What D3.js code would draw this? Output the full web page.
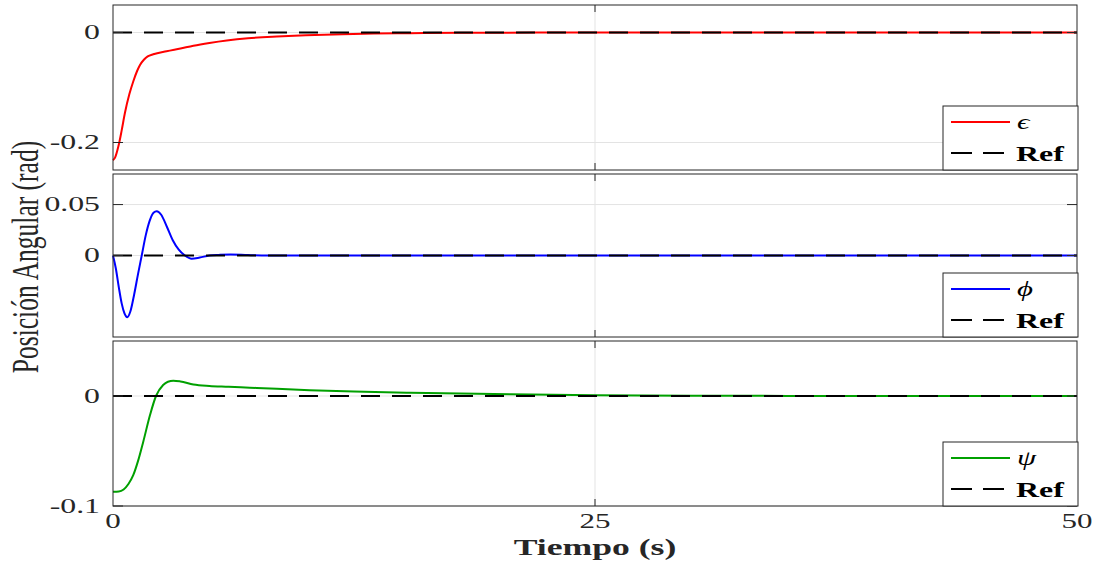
<!DOCTYPE html>
<html>
<head>
<meta charset="utf-8">
<script src="https://cdn.jsdelivr.net/npm/d3@7"></script>
<style>
  body { margin: 0; background: #fff; }
  text { font-family: "Liberation Serif", "DejaVu Serif", serif; fill: #262626; }
</style>
</head>
<body>
<div id="chart"></div>
<script>
const W = 1103, H = 564;
const SX = 1.55; // the reference is stretched horizontally

// time series
const tEps = [0, 0.1, 0.28, 0.45, 0.62, 0.85, 1.05, 1.25, 1.4, 1.6, 1.8, 2.09, 2.78, 3.5, 4.17, 5.0, 5.9, 7.0, 8.5, 10, 11.9, 13.5, 15.4, 18, 22, 30, 50];
const epsVals = [-0.232, -0.228, -0.207, -0.178, -0.146, -0.112, -0.089, -0.07, -0.059, -0.0495, -0.0435, -0.0395, -0.034, -0.029, -0.024, -0.019, -0.0145, -0.0105, -0.0073, -0.005, -0.003, -0.002, -0.0012, -0.0006, -0.0002, 0, 0];

const tPhi = [0, 0.15, 0.3, 0.45, 0.6, 0.74, 0.9, 1.1, 1.3, 1.49, 1.7, 1.9, 2.1, 2.27, 2.5, 2.8, 3.1, 3.4, 3.73, 4.08, 4.5, 5.0, 5.5, 6.1, 7, 8, 50];
const phiVals = [0, -0.013, -0.031, -0.047, -0.057, -0.0605, -0.055, -0.038, -0.018, 0, 0.02, 0.034, 0.042, 0.0435, 0.040, 0.028, 0.015, 0.006, 0, -0.0032, -0.002, 0, 0.0006, 0.001, 0.0004, 0, 0];

const tPsi = [0, 0.3, 0.55, 0.8, 1.05, 1.3, 1.57, 1.92, 2.23, 2.6, 2.85, 3.13, 3.5, 4.17, 5, 6, 7.1, 8.5, 10.2, 12.5, 15.4, 18, 20.6, 25, 30, 35, 50];
const psiVals = [-0.087, -0.0868, -0.085, -0.08, -0.072, -0.059, -0.0415, -0.0173, 0, 0.010, 0.013, 0.0139, 0.0132, 0.0105, 0.0092, 0.0085, 0.0076, 0.0065, 0.0052, 0.004, 0.003, 0.0022, 0.0015, 0.0007, 0.0003, 0.0001, 0];

const xTicks = [0, 25, 50];
const panelDomains = [[-0.25, 0.05], [-0.08, 0.08], [-0.1, 0.05]];
const panelTicks = [[-0.2, 0], [0, 0.05], [-0.1, 0]];
const panelTickLabels = [["-0.2", "0"], ["0", "0.05"], ["-0.1", "0"]];
const seriesNames = ["\u03F5", "\u03D5", "\u03C8"];
const seriesColors = ["#ff0000", "#0000ff", "#00a000"];
const refName = "Ref";

const panelTops = [5, 174, 341];
const panelBottoms = [170, 337, 506];
const left = 113, right = 1077;
const axisColor = "#262626", gridColor = "#e3e3e3";

const svg = d3.select("#chart").append("svg")
  .attr("width", W).attr("height", H);

const x = d3.scaleLinear().domain([0, 50]).range([left, right]);

const series = [
  { t: tEps, v: epsVals },
  { t: tPhi, v: phiVals },
  { t: tPsi, v: psiVals }
];

function stretchedText(parent, px, py, str, opts = {}) {
  return parent.append("text")
    .attr("transform", `translate(${px},${py}) scale(${opts.sx || SX},1)`)
    .attr("text-anchor", opts.anchor || "middle")
    .attr("dominant-baseline", opts.baseline || "auto")
    .style("font-size", (opts.size || 20.5) + "px")
    .style("font-weight", opts.weight || "normal")
    .style("font-style", opts.style || "normal")
    .text(str);
}

series.forEach((s, i) => {
  const top = panelTops[i], bottom = panelBottoms[i];
  const y = d3.scaleLinear().domain(panelDomains[i]).range([bottom, top]);
  const g = svg.append("g").attr("class", `panel panel-${i}`);

  // grid
  g.selectAll(".vgrid").data(xTicks.slice(1, -1)).enter().append("line")
    .attr("x1", d => x(d)).attr("x2", d => x(d))
    .attr("y1", top).attr("y2", bottom)
    .attr("stroke", gridColor).attr("stroke-width", 1);
  g.selectAll(".hgrid").data(panelTicks[i]).enter().append("line")
    .attr("x1", left).attr("x2", right)
    .attr("y1", d => y(d)).attr("y2", d => y(d))
    .attr("stroke", gridColor).attr("stroke-width", 1);

  // signal
  const line = d3.line()
    .x(d => x(d[0])).y(d => y(d[1]))
    .curve(d3.curveMonotoneX);
  g.append("path")
    .datum(s.t.map((t, k) => [t, s.v[k]]))
    .attr("d", line)
    .attr("fill", "none")
    .attr("stroke", seriesColors[i])
    .attr("stroke-width", 2);

  // reference
  g.append("line")
    .attr("x1", x(0)).attr("x2", x(50))
    .attr("y1", y(0)).attr("y2", y(0))
    .attr("stroke", "#000").attr("stroke-width", 2)
    .attr("stroke-dasharray", "19,12");

  // box
  g.append("rect")
    .attr("x", left).attr("y", top)
    .attr("width", right - left).attr("height", bottom - top)
    .attr("fill", "none").attr("stroke", axisColor).attr("stroke-width", 1);

  // ticks
  panelTicks[i].forEach((v, k) => {
    g.append("line").attr("x1", left).attr("x2", left + 10)
      .attr("y1", y(v)).attr("y2", y(v)).attr("stroke", axisColor);
    g.append("line").attr("x1", right).attr("x2", right - 10)
      .attr("y1", y(v)).attr("y2", y(v)).attr("stroke", axisColor);
    stretchedText(g, 100, y(v), panelTickLabels[i][k], { anchor: "end", baseline: "central" });
  });
  xTicks.slice(1, -1).forEach(v => {
    g.append("line").attr("x1", x(v)).attr("x2", x(v))
      .attr("y1", top).attr("y2", top + 7).attr("stroke", axisColor);
    g.append("line").attr("x1", x(v)).attr("x2", x(v))
      .attr("y1", bottom).attr("y2", bottom - 7).attr("stroke", axisColor);
  });

  // legend
  const lw = 135, lh = 64;
  const lx = right + 1 - lw, ly = bottom - lh;
  const lg = g.append("g").attr("class", "legend");
  lg.append("rect").attr("x", lx).attr("y", ly).attr("width", lw).attr("height", lh)
    .attr("fill", "#fff").attr("stroke", axisColor).attr("stroke-width", 1);
  const r1 = bottom - 48, r2 = bottom - 17;
  lg.append("line").attr("x1", lx + 8).attr("x2", lx + 67)
    .attr("y1", r1).attr("y2", r1)
    .attr("stroke", seriesColors[i]).attr("stroke-width", 2);
  lg.append("line").attr("x1", lx + 8).attr("x2", lx + 67)
    .attr("y1", r2).attr("y2", r2)
    .attr("stroke", "#000").attr("stroke-width", 2)
    .attr("stroke-dasharray", "21,11");
  stretchedText(lg, lx + 74, r1 + 7, seriesNames[i], { anchor: "start", size: 22, style: "italic", sx: 1.4 })
    .style("fill", "#000");
  stretchedText(lg, lx + 73, r2 + 8, refName, { anchor: "start", size: 22, weight: "bold", sx: 1.45 })
    .style("fill", "#000");
});

// x tick labels
xTicks.forEach(v => {
  stretchedText(svg, x(v), 528, String(v), { size: 20 });
});

// axis titles
stretchedText(svg, 595, 555, "Tiempo (s)", { size: 23, weight: "bold", sx: 1.55 });

svg.append("text")
  .attr("transform", `translate(38,257) rotate(-90) scale(1,1.5)`)
  .attr("text-anchor", "middle")
  .style("font-size", "25.5px")
  .text("Posición Angular (rad)");
</script>
</body>
</html>
